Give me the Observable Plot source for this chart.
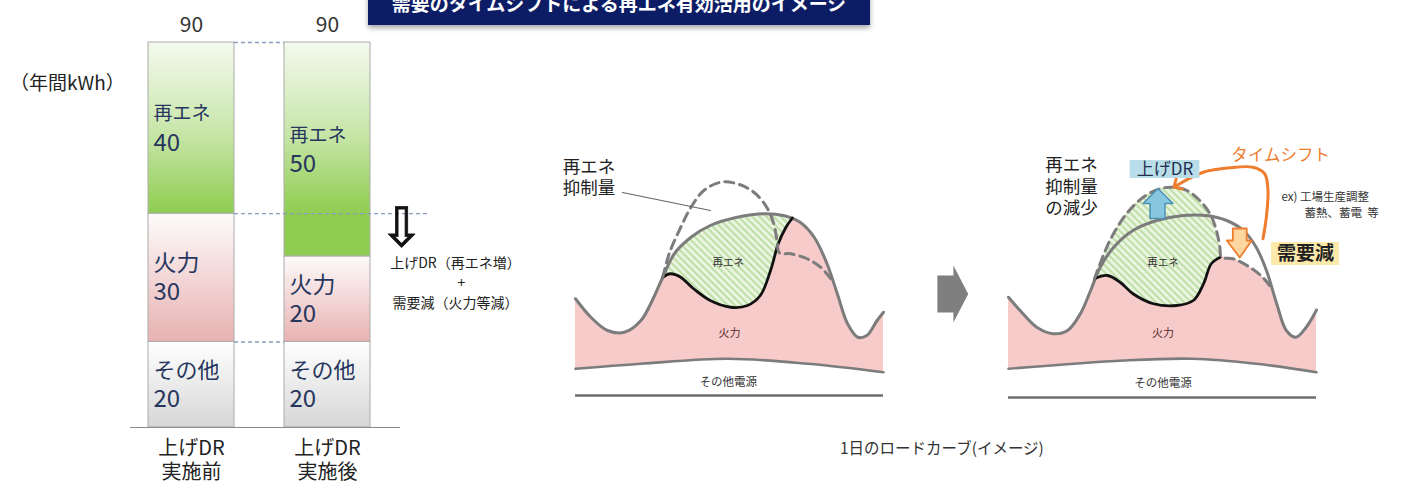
<!DOCTYPE html>
<html><head><meta charset="utf-8">
<script src="https://cdn.jsdelivr.net/npm/d3@7"></script>
<script src="https://cdn.jsdelivr.net/npm/@observablehq/plot@0.6"></script>
<style>
html,body{margin:0;padding:0;background:#fff;}
#root{position:relative;width:1406px;height:484px;overflow:hidden;background:#fff;font-family:"Noto Sans CJK JP","Noto Sans",sans-serif;}
.abs{position:absolute;}
#banner{left:368px;top:-20px;width:502px;height:45px;background:#0c1d66;box-shadow:0 3px 5px rgba(0,0,0,.35);color:#fff;font-weight:700;font-size:19px;text-align:center;line-height:20px;box-sizing:border-box;padding-top:13px;white-space:nowrap;}
#unit{left:10px;top:68px;font-size:19px;color:#222;white-space:nowrap;}
#caption{left:840px;top:436px;font-size:15.5px;color:#333;white-space:nowrap;}
</style></head>
<body><div id="root">
<div id="banner" class="abs">需要のタイムシフトによる再エネ有効活用のイメージ</div>
<div id="unit" class="abs">（年間kWh）</div>
<div id="caption" class="abs">1日のロードカーブ(イメージ)</div>
</div>
<script>
// ---------- data ----------
const categories = ["上げDR\n実施前", "上げDR\n実施後"];
const sources = ["その他", "火力", "再エネ"];
const otherValues = [20, 20];
const thermalValues = [30, 20];
const renewValues = [40, 50];
const totalValues = [90, 90];

// daily load curves: [hour, level]
const demandBefore = [[0,38.7],[1.2,31.3],[2.5,26],[3.8,25.3],[5.1,30],[6.1,39.3],[6.8,47.3],[7.7,56.7],[9,63.3],[10.5,68],[12.6,71.3],[14.7,72.7],[16.2,72],[17.5,69.3],[18.6,63.3],[19.6,52.7],[20.4,40.7],[21.2,28.7],[22,23.3],[22.7,24],[23.5,30],[24,33.3]];
const thermalBefore = [[6.8,47.3],[7.4,48.7],[8.2,47.3],[9.2,42.7],[10.5,38],[12.1,35.3],[13.4,36],[14.4,40],[15.2,50],[15.8,60.7],[16.4,67.3],[16.9,71]];
const potentialBefore = [[6.8,47.3],[7.3,56.7],[8.2,67.3],[9,75.3],[10,82],[11.3,85.3],[12.6,84.7],[13.9,81.3],[14.9,75.3],[15.45,68.7],[15.7,62],[15.9,57],[16.75,56.7],[18.05,54.7],[19.1,51.3],[19.9,46.7]];
const otherBefore = [[0,10.7],[5.1,12.7],[11.9,14.7],[18.1,12.7],[24,9.3]];

const demandAfter = [[0,40.1],[0.9,34.8],[2.2,28.1],[3.5,25.5],[4.6,26.8],[5.6,33.5],[6.4,42.8],[7.15,52.1],[8.2,60.1],[9.7,66.8],[11.55,70.8],[13.6,72.8],[15.4,72.8],[17,70.8],[18.3,66.8],[19.3,60.1],[20.1,50.8],[20.9,37.5],[21.65,26.8],[22.4,24.1],[23.2,28.1],[24,35]];
const thermalAfter = [[6.7,47.5],[7.7,48.8],[8.7,46.1],[9.7,41.5],[11.3,37.5],[13.1,36.8],[14.4,38.8],[15.2,45.5],[15.8,53.5],[16.5,56.1]];
const potentialAfter = [[6.7,47.5],[7.9,62.8],[9.2,73.5],[10.5,80.1],[11.8,83.5],[12.85,84.1],[13.9,82.8],[14.9,78.8],[15.7,73.5],[16.2,66.8],[16.47,60.1],[16.6,56.1],[17.5,55.5],[18.8,52.1],[19.8,48.1],[20.35,44.8]];
const otherAfter = [[0,11.5],[9,14.8],[14.3,15.5],[19.3,13.5],[24,10.1]];

// ---------- helpers ----------
const FONT = "Noto Sans CJK JP";
const root = document.getElementById("root");
function place(svg, left, top) {
  const d = document.createElement("div");
  d.className = "abs"; d.style.left = left + "px"; d.style.top = top + "px";
  d.appendChild(svg); root.appendChild(d);
}
const pts = a => a.map(([h, v]) => ({h, v}));

// ---------- bar chart ----------
const barRows = [];
categories.forEach((cat, i) => {
  let cum = 0;
  [otherValues[i], thermalValues[i], renewValues[i]].forEach((value, k) => {
    barRows.push({cat, source: sources[k], value, y1: cum, y2: cum + value, mid: cum + value / 2});
    cum += value;
  });
});
const totalRows = categories.map((cat, i) => ({cat, total: totalValues[i]}));
const BW = 560, ML = 130, MR = 160;
const xOpts = {type: "band", domain: categories, range: [148, 370], paddingInner: 0.368, paddingOuter: 0};
const yOpts = {domain: [0, 90], range: [427, 42]};
const xS = Plot.scale({x: xOpts});
const bw = xS.bandwidth;
const yS = Plot.scale({y: yOpts});
const gapStart = xS.apply(categories[0]) + bw, gapEnd = xS.apply(categories[1]);
const longEnd = xS.apply(categories[1]) + bw + 60;
const fills = {"再エネ": "url(#gRenew)", "火力": "url(#gThermal)", "その他": "url(#gOther)"};
const nameSize = {"再エネ": 19, "火力": 23, "その他": 22};
const shortLinks = [totalValues[0], otherValues[0]];
const longLinks = [otherValues[0] + thermalValues[0]];
const dashStyle = {stroke: "#8a9cc0", strokeWidth: 1.4, strokeDasharray: "4,3"};
const barPlot = Plot.plot({
  width: BW, height: 484, marginLeft: ML, marginRight: MR, marginTop: 0, marginBottom: 0,
  style: {fontFamily: FONT, overflow: "visible", background: "transparent"},
  x: {...xOpts, axis: null},
  y: {...yOpts, axis: null},
  marks: [
    ...sources.map(s => Plot.rectY(barRows.filter(d => d.source === s), {x: "cat", y1: "y1", y2: "y2", fill: fills[s], stroke: "#ababab", strokeWidth: 1})),
    Plot.ruleY(shortLinks, {insetLeft: gapStart - ML, insetRight: (BW - MR) - gapEnd, ...dashStyle}),
    Plot.ruleY(longLinks, {insetLeft: gapStart - ML, insetRight: (BW - MR) - longEnd, ...dashStyle}),
    Plot.ruleY([0], {stroke: "#8c8c8c", strokeWidth: 1.2}),
    ...sources.map(s => Plot.text(barRows.filter(d => d.source === s), {x: "cat", y: "mid", text: "source", dx: -bw / 2 + 5, dy: -14, textAnchor: "start", fontSize: nameSize[s], fill: "#26365e"})),
    Plot.text(barRows, {x: "cat", y: "mid", text: d => String(d.value), dx: -bw / 2 + 5, dy: 15, textAnchor: "start", fontSize: 24, fill: "#26365e"}),
    Plot.text(totalRows, {x: "cat", y: "total", text: d => String(d.total), dy: -17, fontSize: 21, fill: "#333"}),
    Plot.text(categories, {x: d => d, y: () => 0, text: d => d, dy: 10, lineAnchor: "top", lineHeight: 1.2, fontSize: 20, fill: "#222"}),
    Plot.text([categories[1]], {x: d => d, y: () => 46.4, text: () => "⇩", dx: 74, fontSize: 54, fontFamily: "DejaVu Sans", fill: "#111", stroke: "#111", strokeWidth: 0.8}),
    Plot.text([categories[1]], {x: d => d, y: () => 38.4, text: () => "上げDR（再エネ増）", dx: 128, fontSize: 14, fill: "#222"}),
    Plot.text([categories[1]], {x: d => d, y: () => 33.7, text: () => "+", dx: 134, fontSize: 14, fill: "#222"}),
    Plot.text([categories[1]], {x: d => d, y: () => 29, text: () => "需要減（火力等減）", dx: 128, fontSize: 14, fill: "#222"})
  ]
});
{
  const defs = d3.select(barPlot).insert("defs", ":first-child");
  const g1 = defs.append("linearGradient").attr("id", "gRenew").attr("gradientUnits", "userSpaceOnUse")
    .attr("x1", 0).attr("x2", 0).attr("y1", yS.apply(90)).attr("y2", yS.apply(50));
  g1.append("stop").attr("offset", 0).attr("stop-color", "#f4faee");
  g1.append("stop").attr("offset", 0.55).attr("stop-color", "#c6e5a6");
  g1.append("stop").attr("offset", 1).attr("stop-color", "#8fcd50");
  const g2 = defs.append("linearGradient").attr("id", "gThermal").attr("x1", 0).attr("x2", 0).attr("y1", 0).attr("y2", 1);
  g2.append("stop").attr("offset", 0).attr("stop-color", "#fefbfb");
  g2.append("stop").attr("offset", 1).attr("stop-color", "#e8b2b2");
  const g3 = defs.append("linearGradient").attr("id", "gOther").attr("x1", 0).attr("x2", 0).attr("y1", 0).attr("y2", 1);
  g3.append("stop").attr("offset", 0).attr("stop-color", "#ffffff");
  g3.append("stop").attr("offset", 1).attr("stop-color", "#d6d6d6");
}
place(barPlot, 0, 0);

// ---------- load curve panels ----------
const GRAY = "#7c7c7c", PINK = "#f8cbcb";
function hatchDefs(svg, id) {
  const defs = d3.select(svg).insert("defs", ":first-child");
  const p = defs.append("pattern").attr("id", id).attr("patternUnits", "userSpaceOnUse")
    .attr("width", 5).attr("height", 5).attr("patternTransform", "rotate(-45)");
  p.append("rect").attr("width", 5).attr("height", 5).attr("fill", "#eaf5df");
  p.append("line").attr("x1", 1).attr("y1", 0).attr("x2", 1).attr("y2", 5).attr("stroke", "#b4d99a").attr("stroke-width", 1.6);
}
const panelScales = {x: {domain: [0, 24], range: [35, 343], axis: null}, y: {domain: [0, 100], range: [255, 5], axis: null}};
const curve = "catmull-rom";

// panel 1 (before)
const thermalTop1 = pts([...demandBefore.filter(d => d[0] < 6.8), ...thermalBefore, ...demandBefore.filter(d => d[0] > 16.9)]);
const green1 = pts(demandBefore.filter(d => d[0] >= 6.1 && d[0] <= 17.5));
const grayArrow = pts([[28.2,33.2],[28.2,48],[29.45,48],[29.45,52],[30.6,40.6],[29.45,29.2],[29.45,33.2],[28.2,33.2]]);
const p1 = Plot.plot({
  width: 450, height: 270, margin: 0,
  style: {fontFamily: FONT, overflow: "visible", background: "transparent"},
  ...panelScales,
  marks: [
    Plot.areaY(green1, {x: "h", y1: 0, y2: "v", fill: "url(#hatch1)", curve}),
    Plot.areaY(thermalTop1, {x: "h", y1: 0, y2: "v", fill: PINK, curve}),
    Plot.areaY(pts(otherBefore), {x: "h", y1: 0, y2: "v", fill: "#fff", curve}),
    Plot.line(pts(otherBefore), {x: "h", y: "v", stroke: GRAY, strokeWidth: 2.6, curve}),
    Plot.ruleY([0], {x1: 0, x2: 24, stroke: "#6e6e6e", strokeWidth: 2.6}),
    Plot.line(pts(demandBefore), {x: "h", y: "v", stroke: GRAY, strokeWidth: 3, curve}),
    Plot.line(pts(thermalBefore), {x: "h", y: "v", stroke: "#111", strokeWidth: 2.8, curve}),
    Plot.line(pts(potentialBefore), {x: "h", y: "v", stroke: GRAY, strokeWidth: 3, strokeDasharray: "9,6", curve}),
    Plot.line(pts([[3.66,81.2],[10.52,74]]), {x: "h", y: "v", stroke: "#666", strokeWidth: 1.2}),
    Plot.line(grayArrow, {x: "h", y: "v", fill: "#7f7f7f", stroke: "none"}),
    Plot.text([{h: -1.0, v: 87.6}], {x: "h", y: "v", text: () => "再エネ\n抑制量", textAnchor: "start", fontSize: 17.5, lineHeight: 1.25, fill: "#222"}),
    Plot.text([{h: 11.9, v: 53.2}], {x: "h", y: "v", text: () => "再エネ", fontSize: 10.5, fill: "#333"}),
    Plot.text([{h: 12.0, v: 24.8}], {x: "h", y: "v", text: () => "火力", fontSize: 11, fill: "#5a2d2d"}),
    Plot.text([{h: 11.9, v: 5.2}], {x: "h", y: "v", text: () => "その他電源", fontSize: 11.5, fill: "#333"})
  ]
});
hatchDefs(p1, "hatch1");
place(p1, 540, 140);

// panel 2 (after)
const thermalTop2 = pts([...demandAfter.filter(d => d[0] < 6.7), ...thermalAfter, ...potentialAfter.filter(d => d[0] > 16.6), ...demandAfter.filter(d => d[0] > 20.35)]);
const green2 = pts(potentialAfter.filter(d => d[0] <= 16.6));
const blueArrow = pts([[11.03,71.6],[11.03,77.6],[10.49,77.6],[11.65,83.6],[12.82,77.6],[12.19,77.6],[12.19,71.6],[11.03,71.6]]);
const orangeArrow = pts([[17.48,67.6],[18.56,67.6],[18.56,62.8],[18.95,62.8],[18.02,56],[17.01,62.8],[17.48,62.8],[17.48,67.6]]);
const shiftPath = pts([[19.83,63.5],[20.09,72.1],[20.22,82.8],[19.96,89.5],[19.05,92.1],[17.24,91.9],[15.17,90.1],[13.1,84.8]]);
const p2 = Plot.plot({
  width: 433, height: 270, margin: 0,
  style: {fontFamily: FONT, overflow: "visible", background: "transparent"},
  ...panelScales,
  marks: [
    Plot.areaY(green2, {x: "h", y1: 0, y2: "v", fill: "url(#hatch2)", curve}),
    Plot.areaY(thermalTop2, {x: "h", y1: 0, y2: "v", fill: PINK, curve}),
    Plot.areaY(pts(otherAfter), {x: "h", y1: 0, y2: "v", fill: "#fff", curve}),
    Plot.line(pts(otherAfter), {x: "h", y: "v", stroke: GRAY, strokeWidth: 2.6, curve}),
    Plot.ruleY([0], {x1: 0, x2: 24, stroke: "#6e6e6e", strokeWidth: 2.6}),
    Plot.line(pts(demandAfter), {x: "h", y: "v", stroke: GRAY, strokeWidth: 3, curve}),
    Plot.line(pts(thermalAfter), {x: "h", y: "v", stroke: "#111", strokeWidth: 2.8, curve}),
    Plot.line(pts(potentialAfter), {x: "h", y: "v", stroke: GRAY, strokeWidth: 3, strokeDasharray: "9,6", curve}),
    Plot.line(blueArrow, {x: "h", y: "v", fill: "#86c6df", stroke: "#4b92b5", strokeWidth: 1.5}),
    Plot.line(orangeArrow, {x: "h", y: "v", fill: "#fdd6a0", stroke: "#ee7d2e", strokeWidth: 1.8}),
    Plot.line(shiftPath, {x: "h", y: "v", stroke: "#ee7d2e", strokeWidth: 3, curve, markerEnd: "arrow"}),
    Plot.rect([{x1: 9.48, x2: 14.91, y1: 87.6, y2: 94.8}], {x1: "x1", x2: "x2", y1: "y1", y2: "y2", fill: "#b9dde9"}),
    Plot.rect([{x1: 20.5, x2: 25.79, y1: 52.8, y2: 62}], {x1: "x1", x2: "x2", y1: "y1", y2: "y2", fill: "#fde9a9"}),
    Plot.text([{h: 12.19, v: 91.2}], {x: "h", y: "v", text: () => "上げDR", fontSize: 17, fill: "#1f3050"}),
    Plot.text([{h: 23.15, v: 57.4}], {x: "h", y: "v", text: () => "需要減", fontSize: 19, fontWeight: "bold", fill: "#222"}),
    Plot.text([{h: 21.2, v: 96.8}], {x: "h", y: "v", text: () => "タイムシフト", fontSize: 16.5, fill: "#ee7d31"}),
    Plot.text([{h: 2.87, v: 84.8}], {x: "h", y: "v", text: () => "再エネ\n抑制量\nの減少", textAnchor: "start", fontSize: 17.5, lineHeight: 1.25, fill: "#222"}),
    Plot.text([{h: 21.28, v: 80}], {x: "h", y: "v", text: () => "ex) 工場生産調整", textAnchor: "start", fontSize: 11.5, fill: "#333"}),
    Plot.text([{h: 23.07, v: 73.6}], {x: "h", y: "v", text: () => "蓄熱、蓄電  等", textAnchor: "start", fontSize: 11.5, fill: "#333"}),
    Plot.text([{h: 12.04, v: 54}], {x: "h", y: "v", text: () => "再エネ", fontSize: 10.5, fill: "#333"}),
    Plot.text([{h: 12.04, v: 25.6}], {x: "h", y: "v", text: () => "火力", fontSize: 11, fill: "#5a2d2d"}),
    Plot.text([{h: 12.04, v: 5.6}], {x: "h", y: "v", text: () => "その他電源", fontSize: 11.5, fill: "#333"})
  ]
});
hatchDefs(p2, "hatch2");
place(p2, 973, 142);
</script>
</body></html>
